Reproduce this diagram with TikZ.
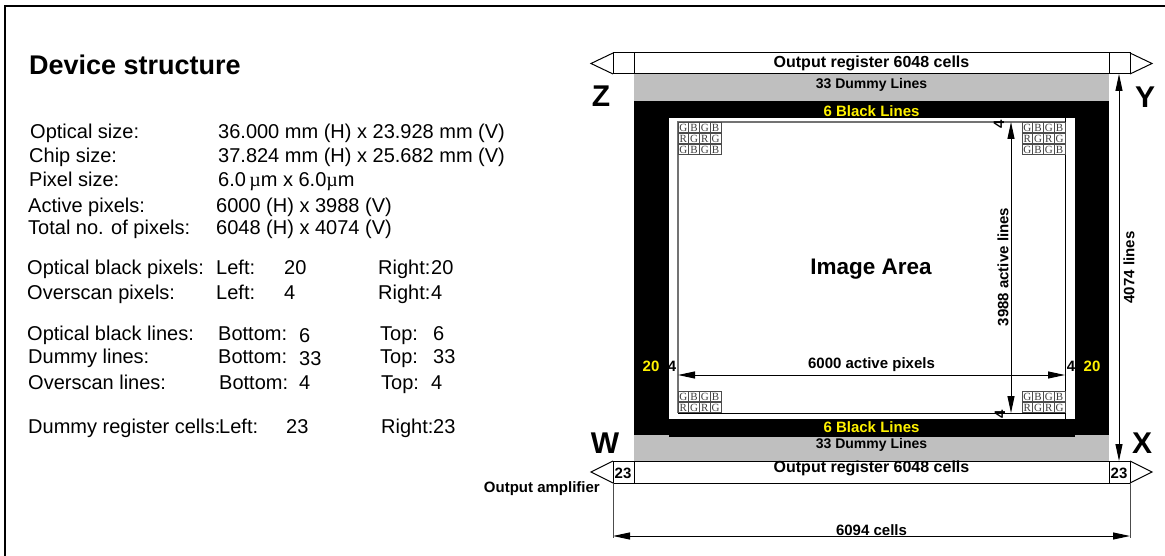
\documentclass[tikz,border=0pt]{standalone}
\usepackage{fontspec}
\setmainfont{Liberation Sans}
\newfontfamily\symbfont{Liberation Serif}
\usetikzlibrary{arrows.meta}

\tikzset{
  txt/.style={anchor=base west, inner sep=0, yshift=-1pt, font=\fontsize{20}{20}\selectfont},
  lbl/.style={inner sep=0, font=\fontsize{#1}{#1}\selectfont\bfseries},
  lbl/.default=15,
  corner/.style={lbl=30},
  tag/.style={lbl=15, text=yellow},
  dim/.style={{Triangle[length=17pt,width=7pt]}-{Triangle[length=17pt,width=7pt]}, line width=1pt},
  cell/.style={draw=black!70, line width=1pt, minimum size=10.8pt, inner sep=0, font=\symbfont\fontsize{11}{11}\selectfont, text=black!75},
  reg/.style={draw, line width=1pt},
}

% One row of colour filter cells: name, left x, y, letters
\newcommand{\cellrow}[4]{
  \foreach \c [count=\i from 0] in {#4} {
    \node [cell] (#1-\i) at (#2+5.4+10.75*\i,#3) {\c};
  }
}

\begin{document}
\begin{tikzpicture}[x=1pt,y=-1pt]

      % Definitions
      \def\xa{613}     % Left end of register
      \def\xb{634}     % Left edge of dummy lines
      \def\xc{669}     % Left edge of white area
      \def\xd{678}     % Left edge of image area
      \def\xe{1065}    % Right edge of image area
      \def\xf{1075}    % Right edge of white area
      \def\xg{1109}    % Right edge of dummy lines
      \def\xh{1130}    % Right end of register
      \def\xm{871.5}   % Middle of the device

      \useasboundingbox (0,0) rectangle (1165,556);
      \fill [white] (0,0) rectangle (1165,556);
      \draw [line width=2pt] (5,556) -- (5,6) -- (1165,6);

      \coordinate (ImgNW) at (\xd,122);
      \coordinate (ImgNE) at (\xe,122);
      \coordinate (ImgSW) at (\xd,413);
      \coordinate (ImgSE) at (\xe,413);

      % Left hand text
      \node [lbl=27, anchor=base west] (title) at (29,75) {Device structure};

      \node [txt] (optical) at (30,138) {Optical size:};
      \node [txt] (opticalv) at (218,138) {36.000 mm (H) x 23.928 mm (V)};
      \node [txt] (chip) at (29,162) {Chip size:};
      \node [txt] (chipv) at (218,162) {37.824 mm (H) x 25.682 mm (V)};
      \node [txt] (pixel) at (29,186) {Pixel size:};
      \node [txt] (pixelv) at (218,186) {6.0\,{\symbfont µ}m x 6.0{\symbfont µ}m};
      \node [txt] (active) at (28,212) {Active pixels:};
      \node [txt] (activev) at (216,212) {6000 (H) x 3988 (V)};
      \node [txt] (total) at (28,234) {Total no. of pixels:};
      \node [txt] (totalv) at (216,234) {6048 (H) x 4074 (V)};

      \node [txt] (obp) at (27,274) {Optical black pixels:};
      \node [txt] (obpl) at (216,274) {Left:};
      \node [txt] (obpln) at (284,274) {20};
      \node [txt] (obpr) at (378,274) {Right:};
      \node [txt] (obprn) at (431,274) {20};
      \node [txt] (osp) at (27,298) {Overscan pixels:};
      \node [txt] (ospl) at (216,298) {Left:};
      \node [txt] (ospln) at (284,298) {4};
      \node [txt] (ospr) at (378,298) {Right:};
      \node [txt] (osprn) at (431,298) {4};

      \node [txt] (obl) at (27,339) {Optical black lines:};
      \node [txt] (oblb) at (218,339) {Bottom:};
      \node [txt] (oblbn) at (299,341) {6};
      \node [txt] (oblt) at (380,339) {Top:};
      \node [txt] (obltn) at (433,339) {6};
      \node [txt] (dl) at (28,362) {Dummy lines:};
      \node [txt] (dlb) at (218,362) {Bottom:};
      \node [txt] (dlbn) at (299,364) {33};
      \node [txt] (dlt) at (380,362) {Top:};
      \node [txt] (dltn) at (433,362) {33};
      \node [txt] (osl) at (28,388) {Overscan lines:};
      \node [txt] (oslb) at (219,388) {Bottom:};
      \node [txt] (oslbn) at (299,388) {4};
      \node [txt] (oslt) at (381,388) {Top:};
      \node [txt] (osltn) at (431,388) {4};

      \node [txt] (drc) at (28,432) {Dummy register cells:};
      \node [txt] (drcl) at (219,432) {Left:};
      \node [txt] (drcln) at (286,432) {23};
      \node [txt] (drcr) at (381,432) {Right:};
      \node [txt] (drcrn) at (433,432) {23};

      % Device layers
      \fill [black!25] (\xb,74) rectangle (\xg,461);
      \fill [black] (\xb,101) rectangle (\xg,435);
      \fill [black] (\xc,419) rectangle (\xf,436.5);
      \fill [white] (\xc,118) rectangle (\xf,419);

      % Output registers with their amplifiers
      \draw [line width=1pt] (\xa,53) -- (591,63.5) -- (\xa,74);
      \draw [line width=1pt] (\xh,53) -- (1152,63.5) -- (\xh,74);
      \draw [line width=1pt] (\xa,461) -- (591,472) -- (\xa,483);
      \draw [line width=1pt] (\xh,461) -- (1152,472) -- (\xh,483);
      \draw [reg] (\xa,53) rectangle (\xh,74);
      \draw [reg] (\xa,461) rectangle (\xh,483);
      \draw [line width=1pt] (\xb,53) -- (\xb,74);
      \draw [line width=1pt] (\xg,53) -- (\xg,74);
      \draw [line width=1pt] (\xb,461) -- (\xb,483);
      \draw [line width=1pt] (\xg,461) -- (\xg,483);

      % Image area
      \draw [black!55, line width=1.6pt] (ImgSW) -- (ImgNW) -- (ImgNE);
      \draw [line width=1pt] (\xe,118) -- (\xe,419);
      \draw [line width=1pt] (ImgSW) -- (ImgSE);

      % Colour filter cells
      \cellrow{nwa}{\xd}{127.5}{G,B,G,B}
      \cellrow{nwb}{\xd}{138.5}{R,G,R,G}
      \cellrow{nwc}{\xd}{149.5}{G,B,G,B}
      \cellrow{nea}{1022}{127.5}{G,B,G,B}
      \cellrow{neb}{1022}{138.5}{R,G,R,G}
      \cellrow{nec}{1022}{149.5}{G,B,G,B}
      \cellrow{swa}{\xd}{396.5}{G,B,G,B}
      \cellrow{swb}{\xd}{407.5}{R,G,R,G}
      \cellrow{sea}{1022}{396.5}{G,B,G,B}
      \cellrow{seb}{1022}{407.5}{R,G,R,G}

      % Dimension lines
      \coordinate (ActT) at (1011,122);
      \coordinate (ActB) at (1011,413);
      \coordinate (TotT) at (1119,74);
      \coordinate (TotB) at (1119,461);
      \coordinate (PixL) at (\xd,375);
      \coordinate (PixR) at (\xe,375);
      \coordinate (CelL) at (\xa,536);
      \coordinate (CelR) at (\xh,536);
      \draw [dim] (ActT) -- (ActB);
      \draw [dim] (TotT) -- (TotB);
      \draw [dim] (PixL) -- (PixR);
      \draw [dim] (CelL) -- (CelR);
      \draw [line width=0.8pt, black!70] (\xa,483) -- (\xa,538);
      \draw [line width=0.8pt, black!70] (\xh,483) -- (\xh,538);

      % Labels
      \node [lbl=16] (regtop) at (\xm,63) {Output register 6048 cells};
      \node [lbl=14] (dumtop) at (\xm,85) {33 Dummy Lines};
      \node [tag] (blktop) at (\xm,111) {6 Black Lines};
      \node [tag] (blkbot) at (\xm,427) {6 Black Lines};
      \node [lbl=14] (dumbot) at (\xm,445) {33 Dummy Lines};
      \node [lbl=16] (regbot) at (\xm,468) {Output register 6048 cells};
      \node [lbl] (cells) at (\xm,530) {6094 cells};
      \node [lbl] (pixels) at (\xm,365) {6000 active pixels};
      \node [lbl=22.5, anchor=base] (image) at (871,275) {Image Area};
      \node [lbl, rotate=90] (lines) at (1003,267) {3988 active lines};
      \node [lbl, rotate=90] (alllines) at (1129,267.5) {4074 lines};

      \node [corner] (Z) at (601,96) {Z};
      \node [corner] (Y) at (1145,97) {Y};
      \node [corner] (W) at (605,443) {W};
      \node [corner] (X) at (1142,443) {X};

      \node [tag] (blkl) at (651,366) {20};
      \node [lbl] (osl4) at (672,366) {4};
      \node [lbl] (osr4) at (1071,366) {4};
      \node [tag] (blkr) at (1092,366) {20};
      \node [lbl, rotate=90] (ost4) at (999,124) {4};
      \node [lbl, rotate=90] (osb4) at (1000,414) {4};
      \node [lbl] (dumml) at (623,473) {23};
      \node [lbl] (dummr) at (1119,473) {23};
      \node [lbl, anchor=east] (amp) at (600,488.5) {Output amplifier};

   \end{tikzpicture}
\end{document}
